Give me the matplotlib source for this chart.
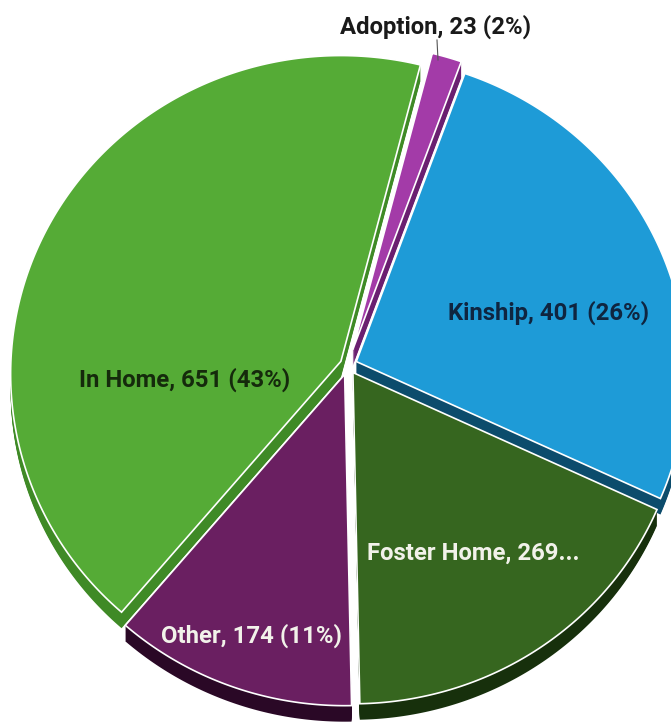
import numpy as np
import matplotlib.pyplot as plt
from matplotlib.patches import Polygon

# Placement counts by type
categories = ['Adoption', 'Kinship', 'Foster Home', 'Other', 'In Home']
counts = [23, 401, 269, 174, 651]

top_colors = ['#A33BA8', '#1E9BD7', '#36661F', '#6A1F61', '#55AB36']
side_colors = ['#6A1F70', '#0C4C6C', '#17300C', '#2A0826', '#3F8A26']
text_colors = ['#1A1A1A', '#0F2540', '#F2F2EA', '#F2F2EA', '#152A0C']
explode = [16, 9, 9, 10, 8]

total = sum(counts)
pcts = [round(100 * n / total) for n in counts]
labels = [f'{c}, {n} ({p}%)' for c, n, p in zip(categories, counts, pcts)]
labels[2] = f'{categories[2]}, {counts[2]}...'

# pixel layout of the tilted pie (slight perspective: far edge smaller)
cx, cy = 348, 365
rx, ry = 330, 318
persp = 0.04
depth = 16
start = 14.5


def rim(theta):
    s = 1.0 / (1.0 + persp * np.cos(theta))
    return rx * np.sin(theta) * s, -ry * np.cos(theta) * s


fig = plt.figure(figsize=(6.71, 7.22), dpi=100)
ax = fig.add_axes([0, 0, 1, 1])
ax.set_xlim(0, 671)
ax.set_ylim(722, 0)
ax.axis('off')

fracs = np.array(counts) / total
bounds = start + 360 * np.concatenate([[0], np.cumsum(fracs)])

tops = []
for i in range(len(counts)):
    a0, a1 = bounds[i], bounds[i + 1]
    mid = np.radians((a0 + a1) / 2)
    ox = cx + explode[i] * np.sin(mid)
    oy = cy - explode[i] * np.cos(mid)
    th = np.radians(np.linspace(a0, a1, 200))
    dx, dy = rim(th)
    xs = np.concatenate([[ox], ox + dx])
    ys = np.concatenate([[oy], oy + dy])
    tops.append(np.column_stack([xs, ys]))

# extruded sides first
for i, pts in enumerate(tops):
    for k in range(1, depth + 1):
        shifted = pts + np.array([0, k])
        ax.add_patch(Polygon(shifted, closed=True, facecolor=side_colors[i],
                             edgecolor='none', zorder=1))

for i, pts in enumerate(tops):
    ax.add_patch(Polygon(pts, closed=True, facecolor=top_colors[i],
                         edgecolor='white', linewidth=1.2, zorder=2))

font = ['Roboto', 'DejaVu Sans']
label_pos = [(436, 27), (549, 313), (473, 553), (251, 636), (185, 380)]
for i, (x, y) in enumerate(label_pos):
    ax.text(x, y, labels[i], ha='center', va='center', fontsize=17.2,
            fontweight='bold', color=text_colors[i], family=font, zorder=5)

# leader line for the small slice
ax.plot([437, 438], [40, 60], color='#555555', linewidth=0.8, zorder=4)

plt.savefig('out.png', dpi=100)
